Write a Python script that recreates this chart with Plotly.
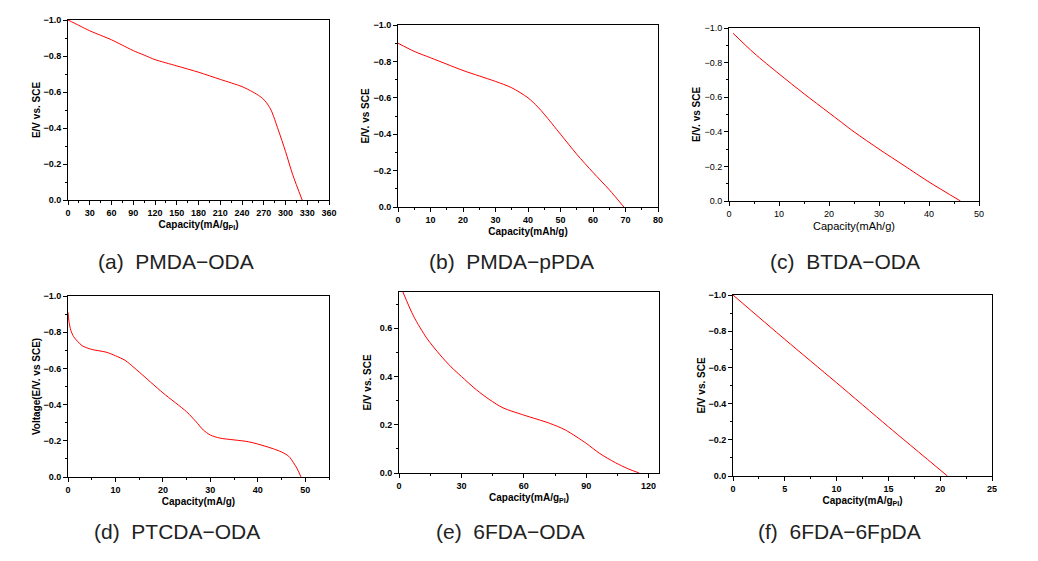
import plotly.graph_objects as go

W, H = 1038, 561

# ---- data ----
a_cap = [0, 15, 30, 45, 60, 75, 90, 105, 120, 150, 180, 210, 240, 255, 265, 272, 280, 290, 300, 310, 323]
a_volt = [-1.0, -0.97, -0.94, -0.915, -0.89, -0.86, -0.83, -0.805, -0.78, -0.745, -0.71, -0.67, -0.63, -0.60, -0.575, -0.55, -0.50, -0.39, -0.27, -0.14, 0.0]

b_cap = [0, 5, 10, 15, 20, 25, 30, 35, 40, 43, 45, 50, 55, 60, 65, 69.5]
b_volt = [-0.90, -0.855, -0.82, -0.785, -0.75, -0.72, -0.69, -0.655, -0.60, -0.55, -0.51, -0.40, -0.29, -0.19, -0.095, 0.0]

c_cap = [0.8, 5, 10, 15, 20, 25, 30, 35, 40, 46.3]
c_volt = [-0.97, -0.855, -0.735, -0.62, -0.51, -0.40, -0.30, -0.205, -0.11, 0.0]

d_cap = [0, 0.2, 0.6, 1.2, 2, 3, 5, 8, 10, 12, 13, 15, 20, 25, 27, 28.5, 30, 32, 35, 38, 40, 43, 45, 46.5, 47.5, 48.3, 49.1]
d_volt = [-0.91, -0.86, -0.81, -0.775, -0.75, -0.725, -0.705, -0.69, -0.67, -0.645, -0.625, -0.58, -0.465, -0.36, -0.305, -0.26, -0.232, -0.215, -0.205, -0.195, -0.182, -0.158, -0.138, -0.115, -0.08, -0.045, 0.0]

e_cap = [1.9, 7, 13.4, 19.8, 25, 30, 37.3, 43.7, 50, 60, 72.4, 80, 90, 96.3, 104, 110, 115.5]
e_volt = [0.75, 0.65, 0.558, 0.489, 0.44, 0.40, 0.344, 0.303, 0.27, 0.24, 0.206, 0.178, 0.123, 0.082, 0.043, 0.018, 0.0]

f_cap = [0, 5, 10, 15, 20.7]
f_volt = [-1.0, -0.755, -0.515, -0.272, 0.0]

captions = ["(a)  PMDA\u2212ODA", "(b)  PMDA\u2212pPDA", "(c)  BTDA\u2212ODA",
            "(d)  PTCDA\u2212ODA", "(e)  6FDA\u2212ODA", "(f)  6FDA\u22126FpDA"]
cap_x = [176, 511, 845, 177, 510, 839]
cap_y = [261, 261, 261, 531, 531, 531]

# ---- panel layout (pixels) ----
panels = [
    (a_cap, a_volt, (68, 329, 20, 200), [0, 360], 30, 15, [0, -1.0], 0.2, 0.1,
     "Capacity(mA/g<sub>PI</sub>)", "E/V vs. SCE", True, 0),
    (b_cap, b_volt, (398, 658, 25, 207), [0, 80], 10, 5, [0, -1.0], 0.2, 0.1,
     "Capacity(mAh/g)", "E/V. vs SCE", True, 1),
    (c_cap, c_volt, (729, 979, 28, 201), [0, 50], 10, 5, [0, -1.0], 0.2, 0.1,
     "Capacity(mAh/g)", "E/V. vs SCE", False, 1),
    (d_cap, d_volt, (68, 329, 296, 477), [0, 55], 10, 5, [0, -1.0], 0.2, 0.1,
     "Capacity(mA/g)", "Voltage(E/V. vs SCE)", True, 0),
    (e_cap, e_volt, (399, 659, 292, 473), [0, 125], 30, 15, [0, 0.75], 0.2, 0.1,
     "Capacity(mA/g<sub>PI</sub>)", "E/V vs. SCE", True, 6),
    (f_cap, f_volt, (733, 992, 295, 476), [0, 25], 5, 2.5, [0, -1.0], 0.2, 0.1,
     "Capacity(mA/g<sub>PI</sub>)", "E/V vs. SCE", True, 0),
]

fig = go.Figure()
layout = dict(width=W, height=H, margin=dict(l=0, r=0, t=0, b=0, autoexpand=False),
              paper_bgcolor="white", plot_bgcolor="white", showlegend=False)

for i, (xs, ys, box, xr, xd, xm, yr, yd, ym, xt, yt, bold, ysoff) in enumerate(panels, start=1):
    l, r, t, b = box
    sx = "" if i == 1 else str(i)
    fig.add_trace(go.Scatter(x=xs, y=ys, mode="lines",
                             line=dict(color="#ff0000", width=1, shape="spline", smoothing=0.8),
                             xaxis="x" + sx, yaxis="y" + sx, hoverinfo="skip"))
    tw = "bold" if bold else "normal"
    tickfont = dict(family="Liberation Sans, Arial, sans-serif", size=9, color="black", weight=tw)
    common = dict(showline=True, linecolor="black", linewidth=1, mirror=True, showgrid=False,
                  zeroline=False, ticks="outside", ticklen=4, tickcolor="black", tickwidth=1,
                  tickfont=tickfont, fixedrange=True, automargin=False)
    layout["xaxis" + sx] = dict(common, domain=[l / W, r / W], range=xr, dtick=xd, tick0=0,
                                anchor="y" + sx,
                                minor=dict(ticks="outside", ticklen=2, dtick=xm, tick0=0, tickcolor="black"),
                                title=dict(text=xt, standoff=4,
                                           font=dict(family="Liberation Sans, Arial, sans-serif",
                                                     size=10 if bold else 11, color="black", weight=tw)))
    layout["yaxis" + sx] = dict(common, domain=[1 - b / H, 1 - t / H], range=yr, dtick=yd, tick0=0,
                                anchor="x" + sx, tickformat=".1f",
                                minor=dict(ticks="outside", ticklen=2, dtick=ym, tick0=0, tickcolor="black"),
                                title=dict(text=yt, standoff=ysoff,
                                           font=dict(family="Liberation Sans, Arial, sans-serif",
                                                     size=10, color="black", weight="bold")))

annotations = []
for txt, cx, cy in zip(captions, cap_x, cap_y):
    annotations.append(dict(text=txt, x=cx / W, y=1 - cy / H, xref="paper", yref="paper",
                            showarrow=False, xanchor="center", yanchor="middle",
                            font=dict(family="Liberation Sans, Arial, sans-serif",
                                      size=21, color="#222222")))
layout["annotations"] = annotations
fig.update_layout(**layout)
fig.write_html("out.html", config={"displayModeBar": False},
               post_script="document.body.style.margin='0';document.body.style.overflow='hidden';")
